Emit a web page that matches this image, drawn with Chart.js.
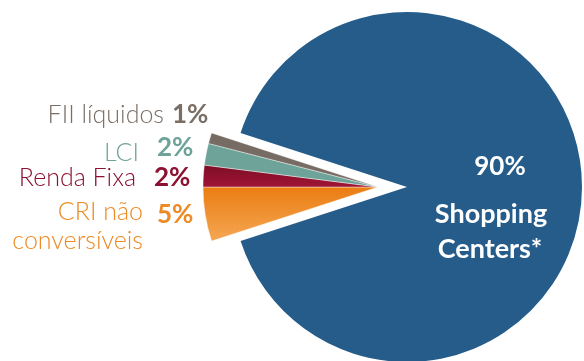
<!DOCTYPE html>
<html>
<head>
<meta charset="utf-8">
<script src="https://cdn.jsdelivr.net/npm/chart.js@4.4.0/dist/chart.umd.min.js"></script>
<style>
  html, body { margin: 0; padding: 0; background: #fff; }
  #wrap { width: 584px; height: 361px; position: relative; }
  #wrap div { position: absolute; left: 0; top: 0; width: 584px; height: 361px; }
</style>
</head>
<body>
<div id="wrap">
  <div><canvas id="bigChart"></canvas></div>
  <div><canvas id="smallChart"></canvas></div>
</div>
<script>
// data
const categories = ['Shopping Centers*', 'CRI não conversíveis', 'Renda Fixa', 'LCI', 'FII líquidos'];
const shares = [90, 5, 2, 2, 1];
const shareLabels = ['90%', '5%', '2%', '2%', '1%'];

// styling
const blue = '#265c8a';
const textColors = ['#ffffff', '#ec8a25', '#8c1030', '#6ea39a', '#7a6f67'];
const clear = 'rgba(0,0,0,0)';

const vGradient = (ctx, top, bottom, c1, c2) => {
    const g = ctx.chart.ctx.createLinearGradient(0, top, 0, bottom);
    g.addColorStop(0, c1);
    g.addColorStop(1, c2);
    return g;
};

// small slices, the big one is left empty here (drawn by the other chart)
const smallColor = (ctx) => {
    const a = ctx.chart.chartArea;
    if (!a) return clear;
    const cy = (a.top + a.bottom) / 2;
    switch (ctx.dataIndex) {
        case 0: return clear;
        case 1: return vGradient(ctx, cy, cy + 48, '#ea7d12', '#f4a24c');
        case 2: return vGradient(ctx, cy - 26, cy, '#760c22', '#a01535');
        case 3: return '#6ea39a';
        default: return '#776c64';
    }
};

// labels drawn on the left, plus the text inside the big slice
const labelPlugin = {
    id: 'labelPlugin',
    afterDatasetsDraw(chart) {
        const c = chart.ctx;
        c.save();
        c.textBaseline = 'alphabetic';
        const nameFont = '300 25px Lato';
        const pctFont = 'bold 26px Lato';
        const rows = [
            // index, name lines [text, rightX, baseline], pct [leftX, baseline]
            [4, [['FII líquidos', 164, 123]], [172, 123]],
            [3, [['LCI', 139, 161]], [157, 156]],
            [2, [['Renda Fixa', 136, 186]], [154, 186]],
            [1, [['CRI não', 143, 220], ['conversíveis', 143, 249]], [157, 223]],
        ];
        rows.forEach(([i, names, pct]) => {
            c.fillStyle = textColors[i];
            c.font = nameFont;
            c.textAlign = 'right';
            names.forEach(([t, x, y]) => c.fillText(t, x, y));
            c.font = pctFont;
            c.textAlign = 'left';
            c.fillText(shareLabels[i], pct[0], pct[1]);
        });
        // inside the blue slice
        c.fillStyle = '#ffffff';
        c.textAlign = 'center';
        c.font = 'bold 26px Lato';
        c.fillText(shareLabels[0], 500, 175);
        c.font = 'bold 27px Lato';
        const parts = categories[0].split(' ');
        c.fillText(parts[0], 491, 223);
        c.fillText(parts[1], 490, 258);
        c.restore();
    }
};

const baseOptions = (padding) => ({
    responsive: true,
    maintainAspectRatio: false,
    animation: false,
    rotation: 288,
    radius: 175,
    layout: { padding },
    plugins: {
        legend: { display: false },
        tooltip: { enabled: false },
    }
});

const makeCharts = () => {
    // the big slice, pulled to the right of the others
    new Chart('bigChart', {
        type: 'pie',
        data: {
            labels: categories,
            datasets: [{
                data: shares,
                backgroundColor: shares.map((v, i) => i === 0 ? blue : clear),
                borderWidth: 0,
                clip: false,
            }]
        },
        options: baseOptions({ left: 232, right: 2, top: 13, bottom: 0 })
    });
    // the small slices
    new Chart('smallChart', {
        type: 'pie',
        data: {
            labels: categories,
            datasets: [{
                data: shares,
                backgroundColor: smallColor,
                borderColor: shares.map((v, i) => i === 0 ? clear : 'rgba(255,255,255,0.7)'),
                borderWidth: 0.6,
                clip: false,
            }]
        },
        options: baseOptions({ left: 194, right: 22, top: 13, bottom: 0 }),
        plugins: [labelPlugin]
    });
};

makeCharts();
</script>
</body>
</html>
